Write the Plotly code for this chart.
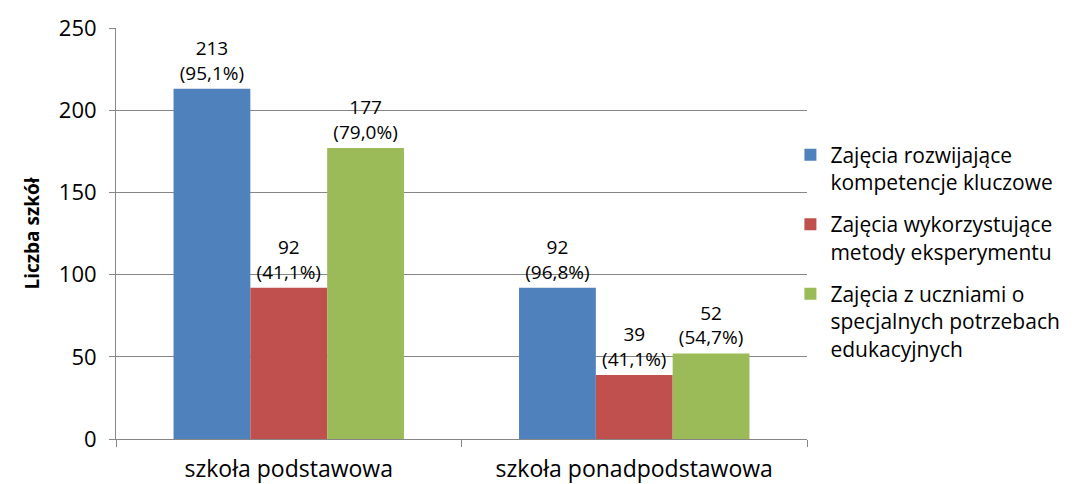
import plotly.graph_objects as go

categories = ["szkoła podstawowa", "szkoła ponadpodstawowa"]
series_names = [
    "Zajęcia rozwijające<br>kompetencje kluczowe",
    "Zajęcia wykorzystujące<br>metody eksperymentu",
    "Zajęcia z uczniami o<br>specjalnych potrzebach<br>edukacyjnych",
]
counts = [
    [213, 92],
    [92, 39],
    [177, 52],
]
percents = [
    ["95,1%", "96,8%"],
    ["41,1%", "41,1%"],
    ["79,0%", "54,7%"],
]
colors = ["#4F81BD", "#C0504D", "#9BBB59"]

FONT = "Open Sans, sans-serif"
GRAY = "#868686"

fig = go.Figure()
for i, (name, vals, pcts, col) in enumerate(zip(series_names, counts, percents, colors)):
    fig.add_trace(go.Bar(
        x=categories,
        y=vals,
        name=name,
        legendgroup=f"g{i}",
        marker=dict(color=col, line=dict(width=0)),
        text=[f"{v}<br>({p})" for v, p in zip(vals, pcts)],
        textposition="outside",
        textfont=dict(size=19, color="#000000", family=FONT),
        cliponaxis=False,
    ))

# page body has an 8px margin, so margins are offset by it
fig.update_layout(
    width=1089, height=484,
    barmode="group",
    bargap=0.333,
    bargroupgap=0,
    plot_bgcolor="white",
    paper_bgcolor="white",
    font=dict(family=FONT, size=19, color="#000000"),
    margin=dict(l=108, r=290, t=20, b=53, autoexpand=False),
    legend=dict(
        x=0.976, xanchor="left",
        y=0.455, yanchor="middle",
        font=dict(size=21, family=FONT),
        itemwidth=30,
        valign="top",
        tracegroupgap=12,
        bgcolor="rgba(0,0,0,0)",
    ),
    showlegend=True,
)
fig.update_xaxes(
    showline=True, linecolor=GRAY, linewidth=1,
    ticks="outside", ticklen=7, tickcolor=GRAY,
    tickson="boundaries",
    tickfont=dict(size=23),
    ticklabelstandoff=9,
    automargin=False,
)
fig.update_yaxes(
    range=[0, 250], dtick=50,
    showgrid=True, gridcolor=GRAY, gridwidth=1,
    showline=True, linecolor=GRAY, linewidth=1,
    ticks="outside", ticklen=6, tickcolor=GRAY,
    tickfont=dict(size=22),
    ticklabelstandoff=8,
    title=dict(text="<b>Liczba szkół</b>", font=dict(size=19), standoff=14),
    zeroline=False,
    automargin=False,
)

fig.write_html("out.html")
